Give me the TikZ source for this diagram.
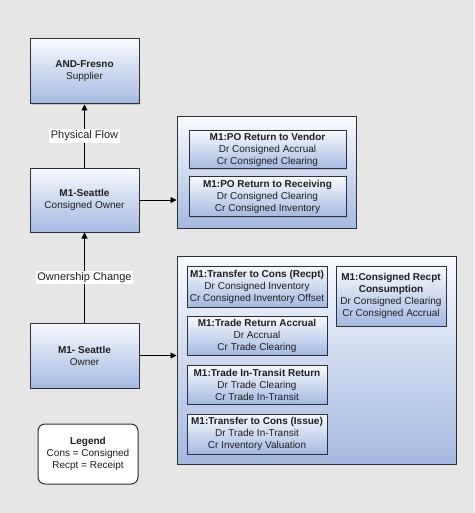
\documentclass[tikz,border=0pt]{standalone}
\usepackage{fontspec}
\setmainfont{Liberation Sans}
\usetikzlibrary{arrows.meta,shadows}
\definecolor{pagebg}{RGB}{230,230,230}
\definecolor{boxtop}{RGB}{248,250,254}
\definecolor{boxbot}{RGB}{164,185,226}
\definecolor{boxedge}{RGB}{45,48,55}
\definecolor{txt}{RGB}{30,30,30}
\tikzset{
  orgbox/.style={draw=boxedge, line width=1pt, top color=boxtop, bottom color=boxbot,
    align=center, inner sep=0pt, text=txt, font=\fontsize{10}{12}\selectfont,
    drop shadow={shadow xshift=1pt, shadow yshift=-1pt, opacity=0.35}},
  groupbox/.style={orgbox},
  entrybox/.style={orgbox, minimum width=140pt},
  flow/.style={draw=black, line width=0.8pt, -{Triangle[length=6pt,width=6pt]}},
  flowlabel/.style={fill=white, inner sep=1.5pt, text=txt, font=\fontsize{11}{13}\selectfont},
  legendbox/.style={draw=boxedge, line width=1pt, fill=white, rounded corners=7pt,
    align=center, text=txt, font=\fontsize{10}{12}\selectfont,
    minimum width=100pt, minimum height=60pt}
}
\begin{document}
\begin{tikzpicture}[x=1pt, y=-1pt]
		\useasboundingbox (0,0) rectangle (474,513);
		\fill[pagebg] (0,0) rectangle (474,513);
		\node[orgbox, minimum width=109pt, minimum height=65pt] (fresno) at (84.5,71.5) {\textbf{AND-Fresno}\\Supplier};
		\node[orgbox, minimum width=109pt, minimum height=64pt] (consowner) at (84.5,200) {\textbf{M1-Seattle}\\Consigned Owner};
		\node[orgbox, minimum width=109pt, minimum height=65pt] (owner) at (84.5,355.5) {\textbf{M1- Seattle}\\Owner};
		\node[legendbox] (legend) at (88,454) {\textbf{Legend}\\Cons = Consigned\\Recpt = Receipt};
		\node[groupbox, minimum width=179pt, minimum height=111pt] (grpone) at (266.5,172.5) {};
		\node[entrybox, minimum width=157pt, minimum height=38pt] (povendor) at (267.5,149.5) {\textbf{M1:PO Return to Vendor}\\Dr Consigned Accrual\\Cr Consigned Clearing};
		\node[entrybox, minimum width=157pt, minimum height=40pt] (poreceiving) at (267.5,196.5) {\textbf{M1:PO Return to Receiving}\\Dr Consigned Clearing\\Cr Consigned Inventory};
		\node[groupbox, minimum width=279pt, minimum height=208pt] (grptwo) at (316.5,360) {};
		\node[entrybox, minimum height=41pt] (consrecpt) at (257,286.5) {\textbf{M1:Transfer to Cons (Recpt)}\\Dr Consigned Inventory\\Cr Consigned Inventory Offset};
		\node[entrybox, minimum height=39pt] (tradeaccrual) at (257,335.5) {\textbf{M1:Trade Return Accrual}\\Dr Accrual\\Cr Trade Clearing};
		\node[entrybox, minimum height=39pt] (tradetransit) at (257,384.5) {\textbf{M1:Trade In-Transit Return}\\Dr Trade Clearing\\Cr Trade In-Transit};
		\node[entrybox, minimum height=40pt] (consissue) at (257,434) {\textbf{M1:Transfer to Cons (Issue)}\\Dr Trade In-Transit\\Cr Inventory Valuation};
		\node[orgbox, minimum width=110pt, minimum height=60pt] (consumption) at (391,296) {\textbf{M1:Consigned Recpt}\\\textbf{Consumption}\\Dr Consigned Clearing\\Cr Consigned Accrual};
		\draw[flow] (consowner) -- node[flowlabel] {Physical Flow} (fresno);
		\draw[flow] (owner) -- node[flowlabel] {Ownership Change} (consowner);
		\draw[flow] (consowner.east) -- (consowner.east -| grpone.west);
		\draw[flow] (owner.east) -- (owner.east -| grptwo.west);
	\end{tikzpicture}
\end{document}
